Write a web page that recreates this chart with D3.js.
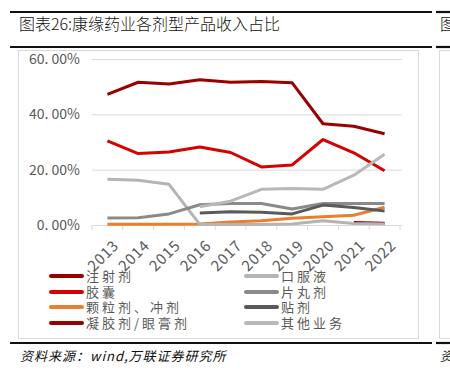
<!DOCTYPE html>
<html><head><meta charset="utf-8">
<script src="https://cdn.jsdelivr.net/npm/d3@7"></script>
<style>
body{margin:0;background:#fff;}
svg{display:block;}
text{font-family:"Noto Sans CJK SC","Noto Sans",sans-serif;}
</style></head>
<body><svg id="c" width="450" height="377"></svg>
<script>
const years = ["2013","2014","2015","2016","2017","2018","2019","2020","2021","2022"];
const yTicks = [0,20,40,60];
const yTickLabels = ["0. 00%","20. 00%","40. 00%","60. 00%"];
const seriesNames = ["注射剂","口服液","胶囊","片丸剂","颗粒剂、冲剂","贴剂","凝胶剂/眼膏剂","其他业务"];
const seriesColors = ["#990000","#B4B4B4","#D60000","#8A8A8A","#ED7D31","#5A5A5A","#990000","#B8B8B8"];
const injection = [47.2,51.6,51.0,52.5,51.6,51.9,51.4,36.6,35.7,33.0];
const oral = [16.5,16.2,14.7,0.2,0.2,0.2,0.4,1.5,0.5,0.4];
const capsule = [30.4,25.8,26.4,28.2,26.2,21.0,21.7,30.9,26.1,19.6];
const tablet = [2.5,2.6,4.0,7.3,7.8,7.8,5.8,7.8,7.8,7.8];
const granule = [0.3,0.3,0.3,0.4,1.1,1.5,2.4,3.0,3.5,6.4];
const patch = [null,null,null,4.3,4.8,4.6,4.0,7.2,6.3,5.1];
const gel = [null,null,null,null,null,null,null,null,0.9,0.6];
const other = [null,null,null,6.6,8.6,12.9,13.2,12.9,18.0,25.6];
const seriesData = [injection,oral,capsule,tablet,granule,patch,gel,other];
const drawOrder = [0,2,4,6,1,3,5,7];

const svg = d3.select("#c");
// frame rules
const rules = [[10,432,12],[10,432,47],[10,432,343],[436,450,12],[436,450,47],[436,450,343]];
rules.forEach(r=>svg.append("line").attr("x1",r[0]).attr("x2",r[1]).attr("y1",r[2]).attr("y2",r[2]).attr("stroke","#111").attr("stroke-width",2.2));
svg.append("rect").attr("x",18.5).attr("y",50.5).attr("width",400).attr("height",288).attr("fill","none").attr("stroke","#D9D9D9").attr("stroke-width",1);
svg.append("rect").attr("x",439.5).attr("y",50.5).attr("width",40).attr("height",288).attr("fill","none").attr("stroke","#D9D9D9").attr("stroke-width",1);
svg.append("text").attr("x",19).attr("y",30).attr("font-size",16).attr("font-weight",300).attr("fill","#111").text("图表26:康缘药业各剂型产品收入占比");
svg.append("text").attr("x",440).attr("y",30).attr("font-size",16).attr("font-weight",300).attr("fill","#111").text("图");
svg.append("text").attr("x",20).attr("y",361).attr("font-size",13).attr("font-style","italic").attr("letter-spacing",1).attr("fill","#111").text("资料来源：wind,万联证券研究所");
svg.append("text").attr("x",440).attr("y",361).attr("font-size",13).attr("font-style","italic").attr("fill","#111").text("资");

const x = d3.scaleBand().domain(years).range([92,400]);
const y = d3.scaleLinear().domain([0,60]).range([225,59]);

// gridlines
const gy = svg.append("g").attr("transform","translate(92,0)")
  .call(d3.axisLeft(y).tickValues(yTicks).tickSize(-310).tickFormat((d,i)=>yTickLabels[i]).tickPadding(12));
gy.select(".domain").remove();
gy.selectAll(".tick line").attr("stroke","#D9D9D9");
gy.selectAll(".tick text").attr("font-size",14).attr("fill","#595959").attr("font-family","\"Noto Sans\",sans-serif");

// x axis
const gx = svg.append("g").attr("transform","translate(0,225)")
  .call(d3.axisBottom(x).tickSize(0).tickFormat(d=>d));
gx.select(".domain").attr("stroke","#D9D9D9");
gx.selectAll(".tick text").attr("font-size",15).attr("letter-spacing",0.8).attr("fill","#595959").attr("font-family","\"Noto Sans\",sans-serif")
  .attr("text-anchor","end").attr("transform","translate(5,14) rotate(-45)").attr("dy","0.7em").attr("y",0).attr("x",0);
// boundary tick marks
const bounds = years.map(d=>x(d)).concat([x(years[years.length-1])+x.bandwidth()]);
svg.append("g").selectAll("line").data(bounds).join("line")
  .attr("x1",d=>d).attr("x2",d=>d).attr("y1",225).attr("y2",230).attr("stroke","#D9D9D9");

const line = d3.line().defined(d=>d!=null).x((d,i)=>x(years[i])+x.bandwidth()/2).y(d=>y(d));
drawOrder.forEach(k=>{
  svg.append("path").datum(seriesData[k]).attr("d",line).attr("fill","none")
    .attr("stroke",seriesColors[k]).attr("stroke-width",3).attr("stroke-linejoin","round");
});

// legend
const legendRows = [276,292,307,323];
seriesNames.forEach((n,i)=>{
  const col = i%2, row = Math.floor(i/2);
  const lx = col===0?51:246, ly = legendRows[row];
  svg.append("line").attr("x1",lx).attr("x2",lx+31).attr("y1",ly).attr("y2",ly)
    .attr("stroke",seriesColors[i]).attr("stroke-width",4).attr("stroke-linecap","round");
  svg.append("text").attr("x",lx+35).attr("y",ly+5).attr("font-size",13).attr("letter-spacing",3)
    .attr("fill","#595959").text(n);
});
</script></body></html>
